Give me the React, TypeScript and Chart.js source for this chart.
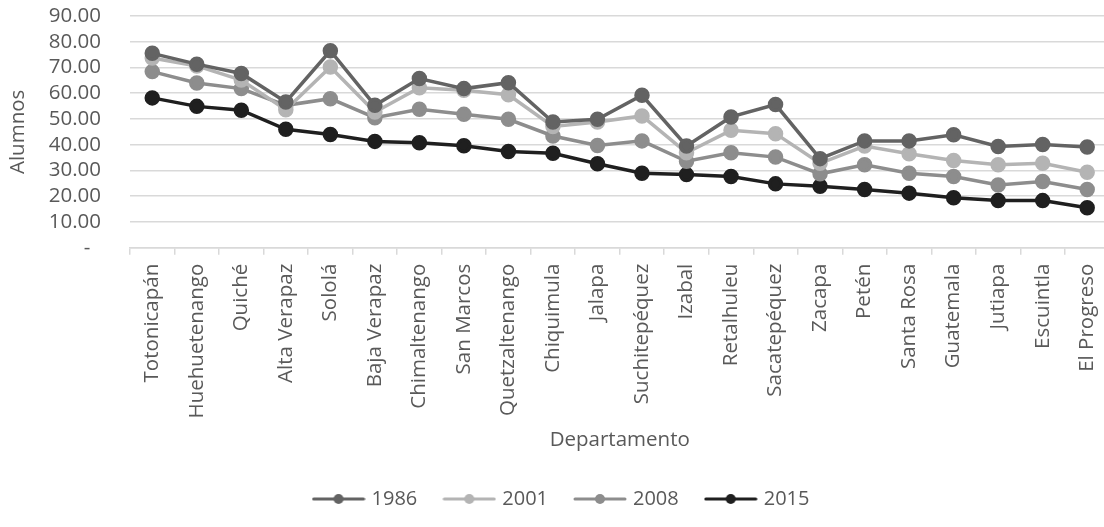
import React, { useEffect, useRef } from 'react';
import { Chart, registerables } from 'chart.js';

Chart.register(...registerables);

const categories = [
  'Totonicapán', 'Huehuetenango', 'Quiché', 'Alta Verapaz', 'Sololá', 'Baja Verapaz',
  'Chimaltenango', 'San Marcos', 'Quetzaltenango', 'Chiquimula', 'Jalapa', 'Suchitepéquez',
  'Izabal', 'Retalhuleu', 'Sacatepéquez', 'Zacapa', 'Petén', 'Santa Rosa', 'Guatemala',
  'Jutiapa', 'Escuintla', 'El Progreso',
];

const seriesNames = ['1986', '2001', '2008', '2015'];

const values1986 = [75.5, 71.3, 67.7, 56.6, 76.5, 55.3, 65.7, 61.8, 64.1, 48.8, 49.9, 59.2, 39.5, 50.8, 55.6, 34.6, 41.5, 41.5, 43.9, 39.3, 40.1, 39.1];
const values2001 = [73.7, 70.6, 65.1, 53.6, 70.2, 52.7, 62.1, 61.2, 59.4, 47.1, 48.8, 51.2, 36.9, 45.6, 44.3, 32.8, 39.5, 36.5, 33.9, 32.2, 32.8, 29.3];
const values2008 = [68.4, 64.0, 61.8, 55.3, 57.9, 50.5, 53.8, 51.8, 49.9, 43.4, 39.7, 41.5, 33.6, 36.9, 35.2, 28.7, 32.2, 28.9, 27.7, 24.4, 25.7, 22.6];
const values2015 = [58.2, 54.9, 53.4, 46.0, 44.0, 41.3, 40.8, 39.6, 37.4, 36.7, 32.6, 28.9, 28.4, 27.7, 24.8, 23.9, 22.6, 21.2, 19.4, 18.3, 18.3, 15.5];

const seriesValues = [values1986, values2001, values2008, values2015];
const seriesColors = ['#636363', '#b4b4b4', '#8d8d8d', '#1f1f1f'];

const yMin = 0;
const yMax = 90;
const yStep = 10;

const FONT = "'Open Sans', sans-serif";
const TEXT = '#595959';
const FS = 20.5;
const W = 1121;
const H = 527;

function legendIcon(color: string): HTMLCanvasElement {
  const c = document.createElement('canvas');
  c.width = 54;
  c.height = 12;
  const ctx = c.getContext('2d')!;
  ctx.strokeStyle = color;
  ctx.lineWidth = 3;
  ctx.lineCap = 'round';
  ctx.beginPath();
  ctx.moveTo(2, 6);
  ctx.lineTo(52, 6);
  ctx.stroke();
  ctx.fillStyle = color;
  ctx.beginPath();
  ctx.arc(27, 6, 5, 0, Math.PI * 2);
  ctx.fill();
  return c;
}

export default function App() {
  const ref = useRef<HTMLCanvasElement | null>(null);

  useEffect(() => {
    document.body.style.margin = '0';
    document.body.style.overflow = 'hidden';
    const canvas = ref.current;
    if (!canvas) return;
    const icons = seriesColors.map(legendIcon);
    const chart = new Chart(canvas, {
      type: 'line',
      data: {
        labels: categories,
        datasets: seriesNames.map((name, i) => ({
          label: name,
          data: seriesValues[i],
          borderColor: seriesColors[i],
          backgroundColor: seriesColors[i],
          pointBackgroundColor: seriesColors[i],
          pointBorderColor: seriesColors[i],
          borderWidth: 3.5,
          pointRadius: 6,
          pointHoverRadius: 6,
          tension: 0,
          fill: false,
          pointStyle: 'circle' as const,
        })),
      },
      options: {
        animation: false,
        responsive: false,
        maintainAspectRatio: false,
        devicePixelRatio: 1,
        layout: { padding: { left: 4, right: 0, top: 0, bottom: 8 } },
        plugins: {
          tooltip: { enabled: false },
          legend: {
            position: 'bottom',
            labels: {
              usePointStyle: true,
              pointStyleWidth: 46,
              boxHeight: 12,
              padding: 29,
              color: TEXT,
              font: { family: FONT, size: 20 },
              generateLabels: (ch: any) =>
                ch.data.datasets.map((ds: any, i: number) => ({
                  text: ds.label,
                  fillStyle: seriesColors[i],
                  strokeStyle: seriesColors[i],
                  lineWidth: 0,
                  pointStyle: icons[i],
                  hidden: false,
                  datasetIndex: i,
                  fontColor: TEXT,
                })),
            },
          },
        },
        scales: {
          x: {
            type: 'category',
            offset: true,
            grid: {
              offset: true,
              drawOnChartArea: false,
              drawTicks: true,
              tickLength: 7,
              color: '#d9d9d9',
              lineWidth: 1.5,
            },
            border: { display: true, color: '#d9d9d9', width: 1.5 },
            ticks: {
              minRotation: 90,
              maxRotation: 90,
              autoSkip: false,
              padding: 9,
              color: TEXT,
              font: { family: FONT, size: FS },
            },
            title: {
              display: true,
              text: 'Departamento',
              color: TEXT,
              font: { family: FONT, size: FS },
              padding: { top: 0, bottom: 8 },
            },
          },
          y: {
            min: yMin,
            max: yMax,
            grid: { drawTicks: false, color: '#d9d9d9', lineWidth: 1.5 },
            border: { display: false },
            afterFit: (s: any) => {
              s.width = 126;
              s.paddingTop = 16;
              s.paddingBottom = 12;
            },
            ticks: {
              stepSize: yStep,
              autoSkip: false,
              padding: 29,
              color: TEXT,
              font: { family: FONT, size: FS },
              callback: (v: any) => (Number(v) === 0 ? '-  ' : Number(v).toFixed(2)),
            },
            title: {
              display: true,
              text: 'Alumnos',
              color: TEXT,
              font: { family: FONT, size: FS },
              padding: { top: 2, bottom: 18 },
            },
          },
        },
      },
    } as any);
    return () => chart.destroy();
  }, []);

  return (
    <div style={{ width: W, height: H, position: 'relative' }}>
      <canvas ref={ref} width={W} height={H} />
    </div>
  );
}
